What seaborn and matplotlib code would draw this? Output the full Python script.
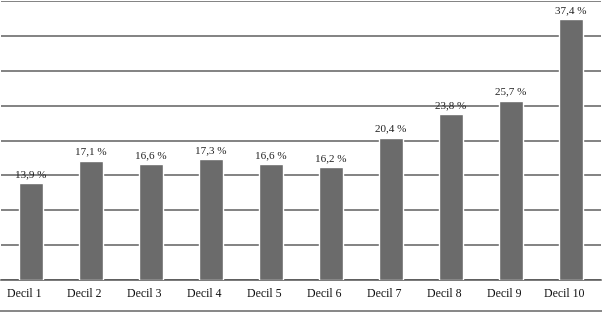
import matplotlib
matplotlib.use("Agg")
import matplotlib.pyplot as plt
import matplotlib.transforms as mtransforms
import seaborn as sns
import pandas as pd
import numpy as np
from matplotlib.lines import Line2D

categories = ["Decil 1", "Decil 2", "Decil 3", "Decil 4", "Decil 5",
              "Decil 6", "Decil 7", "Decil 8", "Decil 9", "Decil 10"]
values = [13.9, 17.1, 16.6, 17.3, 16.6, 16.2, 20.4, 23.8, 25.7, 37.4]
labels = ["13,9 %", "17,1 %", "16,6 %", "17,3 %", "16,6 %",
          "16,2 %", "20,4 %", "23,8 %", "25,7 %", "37,4 %"]

sns.set_style("white")
plt.rcParams['font.family'] = ['Liberation Serif', 'DejaVu Serif']

df = pd.DataFrame({"cat": categories, "val": values})

fig = plt.figure(figsize=(6.02, 3.13), dpi=100)
ax = fig.add_axes([1/602, 33/313, 600/602, 279/313])

sns.barplot(data=df, x="cat", y="val", color="#6b6b6b", saturation=1,
            width=0.4, ax=ax, zorder=3)

ax.set_ylim(0, 40)
ax.set_xlim(-0.5, len(categories) - 0.5)
ax.set_yticks(np.arange(0, 41, 5))
ax.yaxis.grid(True, color="#606060", linewidth=1.1, zorder=0)
ax.set_axisbelow(True)
ax.tick_params(axis="y", left=False, labelleft=False)

for s in ["top", "left", "right"]:
    ax.spines[s].set_visible(False)
ax.spines["bottom"].set_color("#555555")
ax.spines["bottom"].set_linewidth(1.1)

ax.set_xlabel("")
ax.set_ylabel("")
ax.set_xticks(np.arange(len(categories)))
ax.set_xticklabels(categories, fontsize=8.5, color="#111111")
ax.tick_params(axis="x", which="major", length=0, pad=6)
ax.set_xticks(np.arange(-0.5, len(categories), 1.0), minor=True)
ax.tick_params(axis="x", which="minor", length=3.5, width=1, color="#555555",
               direction="out")

shift = mtransforms.ScaledTranslation(-7/100, 0, fig.dpi_scale_trans)
for lab in ax.get_xticklabels():
    lab.set_transform(lab.get_transform() + shift)

for i, (v, t) in enumerate(zip(values, labels)):
    ax.text(i, v + 0.6, t, ha="center", va="bottom", fontsize=8,
            color="#222222", zorder=4)

fig.add_artist(Line2D([0, 1], [2/313, 2/313], transform=fig.transFigure,
                      color="#666666", linewidth=1.1))

fig.savefig("out.png", dpi=100)
